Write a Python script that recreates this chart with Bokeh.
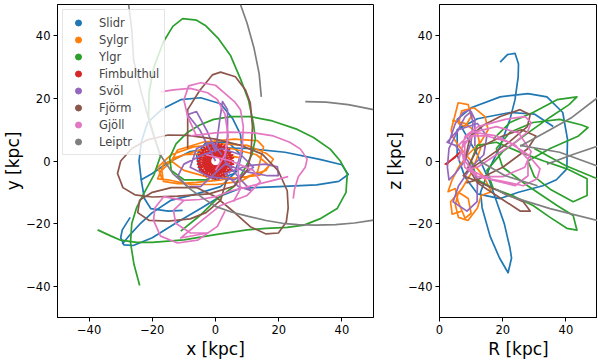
from bokeh.plotting import figure
from bokeh.models import Range1d, FixedTicker, Legend, LegendItem
from bokeh.layouts import row
from bokeh.embed import file_html
from bokeh.resources import INLINE

nan = float("nan")

# ---------------- data (kpc) ----------------
stream_names = ["Slidr", "Sylgr", "Ylgr", "Fimbulthul", "Svöl", "Fjörm", "Gjöll", "Leiptr"]
stream_colors = ["#1f77b4", "#ff7f0e", "#2ca02c", "#d62728", "#9467bd", "#8c564b", "#e377c2", "#7f7f7f"]

xy_ticks = [-40, -20, 0, 20, 40]
xy_tick_labels = ["\u221240", "\u221220", "0", "20", "40"]
r_ticks = [0, 20, 40]
r_tick_labels = ["0", "20", "40"]

# Slidr
slidr_xy = [
    [(-27, -18), (-29.5, -22), (-30, -24.5), (-29, -26.8), (-26, -27), (-20, -24.5), (-12, -19.5),
     (-4.7, -15.2), (2, -11), (8, -8.7), (20, -8.2), (32, -7.6), (39, -6.5), (42, -4.3), (40, -1.2),
     (33, 0.5), (22, 2.8), (10, 4), (0, 4.3), (-8, 3), (-15, -0.5), (-20, -4), (-23.5, -6),
     (-22.5, -12), (-20.5, -15.2), (-15, -16), (-10.4, -15.8)],
    [(-23.5, -6), (-24.2, 0), (-23.5, 6), (-21.5, 12.3), (-17, 16.5), (-11, 19.6), (-4.7, 20.2),
     (1.6, 18.3), (5.4, 13.6), (7.9, 8.5), (8.5, 3), (7, -3), (1.6, -8.2), (-6, -10.5),
     (-14.2, -12.6), (-20, -16.5), (-23.7, -19.9), (-27, -23.5), (-29.5, -26.5)],
    [(-5, -3), (0, -6), (6, -4), (8, 2), (4, 6), (-3, 6), (-6, 2), (-5, -3)],
]
slidr_rz = [
    [(19.2, 31.6), (21.5, 34), (23.9, 34.4), (25, 31), (24.9, 26.9), (23.9, 19.6), (22.3, 13.3),
     (19.2, 4.7), (15.5, -3), (13, -10), (13.5, -15), (16, -24), (19, -31), (21.7, -35.7),
     (22.8, -31), (22.3, -27.8), (20.5, -20), (18.5, -14.2), (15.9, -6.6), (12, 2), (8, 9),
     (5.6, 13.3), (10, 17), (19.2, 20.5), (28, 21.5), (34, 20.5), (39, 15.5), (40.5, 7),
     (40.3, -2.5), (37, -6), (32.7, -7.9), (25, -10), (19.2, -12), (12, -10.5), (8, -5),
     (5.6, 2), (5.6, 10), (12, 13.5), (22.3, 15.5), (30, 15), (36, 11)],
]

# Sylgr
sylgr_xy = [
    [(-17, -5.5), (-18.3, -2), (-14, 2), (-7, 4.5), (2, 5.5), (10, 5), (16, 2.5), (18.3, 0.6),
     (16, -3), (10, -5), (2, -6), (-6, -6.8), (-12, -7.2), (-16.5, -6.5), (-17, -3), (-13, 1),
     (-5, 3.5), (5, 4), (13, 2), (17, -1.5), (14, -4.5), (6, -5.5), (-3, -5), (-10, -3),
     (-14, 0), (-12, 3.5), (-4, 6), (6, 7), (13.3, 6.5), (15.2, 4.5), (13.3, -3.5), (8, -6.5),
     (0, -7.5), (-8, -7.5), (-15, -6), (-18.3, -5.7), (-16.4, -1), (-10, 2), (0, 2.5), (8, 1)],
]
sylgr_rz = [
    [(3.7, 10), (5, 15), (5.9, 18.6), (9.1, 18), (10, 14.2), (8.1, 11), (6, 12), (7, 16), (11, 17),
     (14.4, 14.2), (15.4, 10), (13, 6), (9, 2), (6, -2), (4, -6), (2.7, -9.8), (5, -8.8),
     (5.9, -13), (8.1, -18.3), (10, -16.7), (9.1, -12), (6, -10), (5, -14), (6, -18), (9, -19),
     (12, -15), (13.2, -11), (16.4, -9.8), (14, -5), (10, 0), (6, 5), (4, 8), (3.7, 10)],
    [(4, 13), (8, 12), (12, 9), (13, 4), (10, -4), (7, -9), (3.5, -13), (4, -17), (7, -16)],
]

# Ylgr
ylgr_xy = [
    [(-24, -39.8), (-25.8, -33), (-26.9, -26), (-26.5, -20), (-25, -15), (-22.7, -10.4),
     (-19.5, -4.5), (-17.4, 1.6), (-19.5, 8), (-21.2, 14.2), (-21, 22), (-19.5, 30), (-16.5, 38),
     (-13.5, 43), (-10.4, 45.5), (-6, 45), (-3.2, 43.3), (1, 39), (4.7, 33.8), (8, 26),
     (10.4, 19.6), (12, 12), (12.6, 7), (11.5, 2), (9.5, -2), (6, -8), (0, -12.6), (-5, -17.5),
     (-11, -22.4)],
    [(-37.3, -22), (-33, -24), (-30, -25.3), (-25, -26), (-20, -26), (-10, -25.2), (0, -23.5),
     (10, -22), (16, -21.5), (22.7, -21.2), (28, -20.5), (33, -18.5), (38.5, -15.2), (41.3, -10),
     (41.7, -4.1), (39.5, 0), (36.3, 3.8), (31, 7.5), (25.9, 10.1), (18, 12.8), (11, 14.2),
     (5, 14.2), (-0.6, 13.3), (-5, 11.5), (-8.8, 9.2), (-12.5, 5.5), (-14.5, 1), (-14, -3),
     (-10, -6), (-3, -6), (3, -3)],
]
ylgr_rz = [
    [(17, 7), (22.3, 12.3), (29.6, 15.5), (37.2, 19.6), (43.5, 20.5), (41, 18), (35, 14), (28, 9),
     (20, 3), (15, -3), (17, -8.8), (23, -11), (29.6, -14.2), (35, -18), (40.3, -21.5),
     (43.5, -22.1), (42.3, -17.4), (37.2, -14.2), (28, -8), (20, -2), (18, 4), (22.3, 9.2),
     (29.6, 12.3), (38, 13.3), (45, 11.5), (47, 10.7), (44, 8), (35, 4), (28, 0), (30, -5),
     (35, -9), (42.3, -13), (46.7, -11), (46.7, -5.7), (40.3, -2.5), (33, 0), (25, 3), (18, 6),
     (12, 5), (10, 0), (12, -6), (17, -8.8)],
    [(30, 4), (40, -1.5), (50, -5.7)],
]

# Fimbulthul (tight rosette)
fimbulthul_xy = [
    [(5.8, 0), (0.68, 1.45), (-3.73, 4.44), (-1.55, -0.41), (-1.01, -5.71), (1.31, -0.92),
     (5.02, 2.9), (-0.14, 1.59), (-5.45, 1.98), (-1.13, -1.13), (1.98, -5.45), (1.59, -0.14),
     (2.9, 5.02), (-0.92, 1.31), (-5.71, -1.01), (-0.41, -1.55), (4.44, -3.73), (1.45, 0.68),
     (0, 5.8), (-1.45, 0.68), (-4.44, -3.73), (0.41, -1.55), (5.71, -1.01), (0.92, 1.31),
     (-2.9, 5.02), (-1.59, -0.14), (-1.98, -5.45), (1.13, -1.13), (5.45, 1.98), (0.14, 1.59),
     (-5.02, 2.9), (-1.31, -0.92), (1.01, -5.71), (1.55, -0.41), (3.73, 4.44), (-0.68, 1.45),
     (-5.8, 0), (-0.68, -1.45), (3.73, -4.44), (1.55, 0.41), (1.01, 5.71), (-1.31, 0.92),
     (-5.02, -2.9), (0.14, -1.59), (5.45, -1.98), (1.13, 1.13), (-1.98, 5.45), (-1.59, 0.14),
     (-2.9, -5.02), (0.92, -1.31), (5.71, 1.01), (0.41, 1.55), (-4.44, 3.73), (-1.45, -0.68),
     (0, -5.8), (1.45, -0.68), (4.44, 3.73), (-0.41, 1.55), (-5.71, 1.01), (-0.92, -1.31),
     (2.9, -5.02), (1.59, 0.14), (1.98, 5.45), (-1.13, 1.13), (-5.45, -1.98), (-0.14, -1.59),
     (5.02, -2.9), (1.31, 0.92), (-1.01, 5.71), (-1.55, 0.41), (-3.73, -4.44), (0.68, -1.45),
     (5.8, 0)],
]
fimbulthul_rz = [
    [(2, -1.2), (4, 0.5), (6.5, 2.8), (5, 1.2), (3, -0.3), (1.8, -1), (3.5, 0.2), (6, 2.3),
     (4.5, 1), (2.5, -0.8)],
]

# Svöl
svol_xy = [
    [(0, 0), (-5, 10), (-8.8, 14.8), (-6, 15.8), (-2.5, 9.2), (0, 3), (1.2, 12), (2.2, 19),
     (3.8, 16.4), (3.8, 8), (3, 0), (8, -6), (11.4, -9.5), (7.3, -8.2), (3, -4), (10, -1.5),
     (15.8, -1), (19.6, -1.9), (19.9, -4.7), (16.4, -4.7), (10, -3.5), (3, -1), (-4.7, -8.2),
     (-8.8, -8.2), (-12, -5), (-10, -1), (-4, 2), (2, 4), (8, 2), (12, -2), (6, -6), (-2, -5),
     (-8, -2), (-6, 4), (-1, 6), (2, 2)],
]
svol_rz = [
    [(3, 6), (5, 12), (7.5, 15.5), (9.7, 16.4), (10.6, 12), (10, 6), (8, 0), (5, -4), (3, -6),
     (2.5, -2), (3, 4), (6, 10), (12, 12), (15, 8), (14, 2), (10, -2), (6, -8), (4.3, -13),
     (8.7, -16), (11.9, -13), (12, -6), (9, 0), (5, 5), (2.4, 6), (5.9, 10), (8.1, 14.2),
     (10, 15.8), (11.2, 13.3), (11.2, 4.7)],
]

# Fjörm
fjorm_xy = [
    [(-8.8, 4), (-8.8, 9.2), (-8.8, 16.4), (-5, 22.5), (-1, 27.5), (1.6, 28.4), (6.3, 26.9),
     (9.5, 22.7), (11, 18.6), (11.7, 11), (11.2, 2), (10, -3), (6, -8), (-2, -10.5), (-12, -11.2),
     (-20, -11.5), (-25.5, -10.8), (-29.3, -8.5), (-31, -4), (-30, 0), (-26.5, 4), (-21.5, 6.8),
     (-15, 8.3), (-8.8, 8.2), (0, 7), (8, 5), (14.8, 2.2), (19.9, -3.2), (22.7, -9.5), (23, -15),
     (22.4, -19.5), (19.9, -23), (16, -23.3), (11, -21), (6.3, -16.7), (0, -11.4), (-6, -8.5),
     (-14, -8.5), (-20, -10), (-24, -12.5), (-24.6, -16.5), (-21, -19), (-15, -19.2), (-8, -18.5),
     (-3, -16.5), (1.6, -12.6), (3.5, -6)],
]
fjorm_rz = [
    [(8, 0), (9.7, 7.9), (14, 11.5), (19.2, 14.2), (25.5, 16.4), (28.7, 14.8), (27.8, 11), (22, 6),
     (15, 1), (9, -3), (7.5, -4.7), (12, -6.5), (17, -8.8), (22, -11), (26.5, -13), (28.7, -16),
     (25.5, -16), (18, -11), (12, -7), (9, -2), (12, 4), (20, 8), (26, 10), (30.5, 8), (28, 4),
     (20, -2), (12, -6), (8.5, -7)],
]

# Gjöll
gjoll_xy = [
    [(-17.4, 22.1), (-13.3, 22.7), (-8, 23.2), (-2.5, 21.8), (0.6, 19.6), (3, 15), (4, 8), (3, 2),
     (0, -3)],
    [(-6, 8), (-8.8, 14.2), (-10, 19.5), (-8.5, 24), (-4.7, 25), (0, 24.2), (2.5, 22), (6, 19),
     (7.9, 16.4), (8.8, 11), (8.5, 5), (7, -2.5), (7.9, -8.8), (5.7, -13)],
    [(-7.9, 8), (0, 9), (4.7, 9.2), (12, 9), (18.3, 8), (23.5, 6), (26.9, 3.8), (29, 0.6),
     (28.4, -2), (26.2, -5), (25, -9), (24.6, -12)],
    [(23, -5), (17, -6.5), (10.4, -8.2), (5, -9.5), (0, -11.4), (-5, -12.3), (-10, -12.6),
     (-16.4, -11.4), (-19.2, -15), (-19.6, -19), (-17.4, -24), (-12, -26.2), (-5.7, -25.3),
     (0.6, -20.9), (3, -16)],
    [(-10, -12.6), (-13.3, -15.8), (-12.6, -19.9), (-7.9, -23), (-2.5, -23), (-11, -24.6),
     (-4.7, -19.3), (1.6, -14.2), (10, -11), (14.2, -6.6), (12, -3), (5, 0), (-3, 2)],
]
gjoll_rz = [
    [(6, 0), (8.1, 7.9), (12.2, 11), (20.8, 13.3), (27.1, 14.2), (29, 12.3), (27.8, 9.2), (24, 6),
     (18, 2), (12, -2), (9.1, -2.5), (15.4, -5.7), (23.9, -7.9), (28, -4.7), (28, 0.6), (24, 5),
     (18, 8), (12, 9), (8, 6), (8, 0), (12, -5), (20, -6.5), (26.5, -7.9), (30.9, -5.7),
     (31.8, -2.5), (28, 2), (22, 6), (15, 8), (10, 8), (7, 4), (8, -2), (12, -5), (20, -5),
     (27, -2), (29, 3), (25, 9), (18, 11), (10, 9), (6, 5)],
]

# Leiptr
leiptr_xy = [
    [(-27.5, 50), (-26.5, 42), (-25.9, 32.2), (-23.5, 22), (-20.5, 11), (-17.5, 2), (-13.5, -4),
     (-8, -9), (-3, -12.5), (0, -14.5), (5, -16.3), (10.4, -17.7), (16, -19), (21.2, -19.9),
     (26, -20.3), (31.6, -20.5), (38, -20.3), (44, -19.8), (50, -18.9)],
    [(7.9, 50), (10, 44), (12.2, 36), (13.8, 28), (14.5, 20.5)],
    [(28.4, 19), (35, 18.8), (42, 18), (50, 16.4)],
]
leiptr_rz = [
    [(25.5, 4.7), (35, 10), (42, 14), (50, 20.2)],
    [(34, -1), (42, 2), (50, 4.7)],
    [(25.5, 5), (38, 2.8), (50, -1.6)],
    [(13.2, -0.3), (20.8, -4.7), (31, -7.9)],
    [(18, -9), (21.4, -11), (35, -15.2), (50, -19)],
]

xy_data = [slidr_xy, sylgr_xy, ylgr_xy, fimbulthul_xy, svol_xy, fjorm_xy, gjoll_xy, leiptr_xy]
rz_data = [slidr_rz, sylgr_rz, ylgr_rz, fimbulthul_rz, svol_rz, fjorm_rz, gjoll_rz, leiptr_rz]

FONT = "DejaVu Sans"


def style(p, xticks, xlabels, yticks, ylabels, xlab, ylab):
    p.xgrid.visible = False
    p.ygrid.visible = False
    p.outline_line_color = "black"
    p.outline_line_width = 1
    for ax, ticks, labels, lab, stand in ((p.xaxis[0], xticks, xlabels, xlab, 2),
                                          (p.yaxis[0], yticks, ylabels, ylab, 0)):
        ax.ticker = FixedTicker(ticks=ticks)
        ax.major_label_overrides = {t: l for t, l in zip(ticks, labels)}
        ax.minor_tick_line_color = None
        ax.major_tick_in = 0
        ax.major_tick_out = 4
        ax.major_tick_line_color = "black"
        ax.axis_line_color = "black"
        ax.major_label_text_font = FONT
        ax.major_label_text_font_size = "11.5px"
        ax.major_label_text_color = "black"
        ax.major_label_standoff = 3
        ax.axis_label = lab
        ax.axis_label_text_font = FONT
        ax.axis_label_text_font_size = "17px"
        ax.axis_label_text_font_style = "normal"
        ax.axis_label_text_color = "black"
        ax.axis_label_standoff = stand


def draw(p, data):
    for segs, c in zip(data, stream_colors):
        xs = [[pt[0] for pt in s] for s in segs]
        ys = [[pt[1] for pt in s] for s in segs]
        p.multi_line(xs, ys, line_color=c, line_width=1.7, line_join="round")


H = 361
p1 = figure(width=376, height=H, x_range=Range1d(-50, 50), y_range=Range1d(-50, 50),
            output_backend="svg", toolbar_location=None,
            min_border_left=57, min_border_right=3, min_border_top=4, min_border_bottom=41)
p2 = figure(width=221, height=H, x_range=Range1d(0, 50), y_range=Range1d(-50, 50),
            output_backend="svg", toolbar_location=None,
            min_border_left=63, min_border_right=0, min_border_top=4, min_border_bottom=41)

style(p1, xy_ticks, xy_tick_labels, xy_ticks, xy_tick_labels, "x [kpc]", "y [kpc]")
style(p2, r_ticks, r_tick_labels, xy_ticks, xy_tick_labels, "R [kpc]", "z [kpc]")

draw(p1, xy_data)
draw(p2, rz_data)

# legend with circle markers (legend-only renderers, no visible points)
items = []
for name, c in zip(stream_names, stream_colors):
    r = p1.scatter(x=[nan], y=[nan], marker="circle", size=7, fill_color=c, line_color=c)
    items.append(LegendItem(label=name, renderers=[r]))
legend = Legend(items=items, location="top_left", margin=5, padding=5, spacing=2,
                glyph_width=20, glyph_height=15, label_height=15, label_standoff=11,
                label_text_font=FONT, label_text_font_size="11.5px",
                background_fill_color="white", background_fill_alpha=0.8,
                border_line_color="#cccccc", border_line_width=1)
p1.add_layout(legend)

layout = row(p1, p2)
open("out.html", "w").write(file_html(layout, INLINE))
